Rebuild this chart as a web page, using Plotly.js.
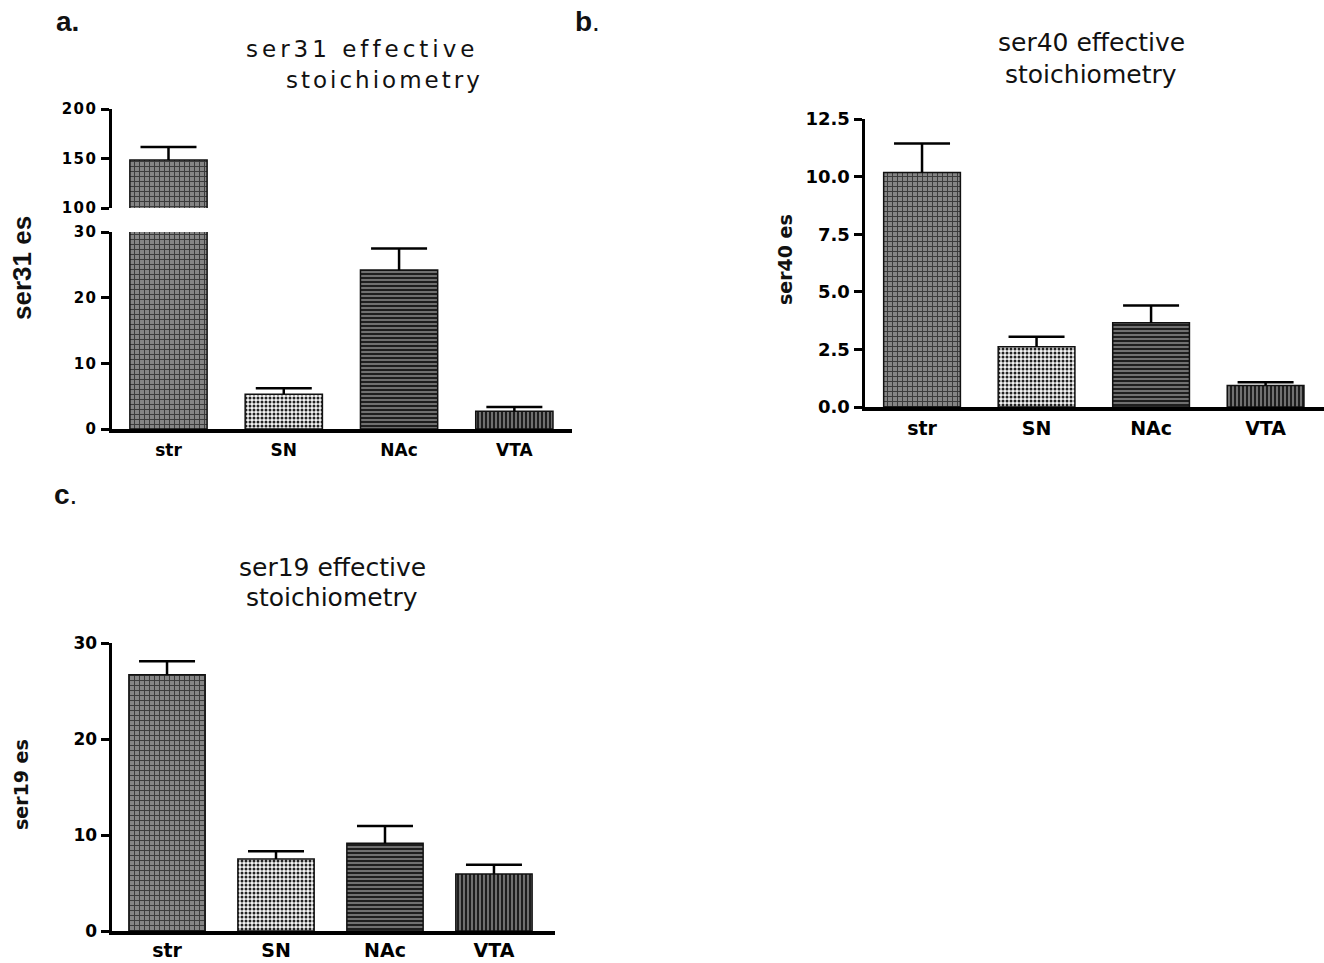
<!DOCTYPE html>
<html>
<head>
<meta charset="utf-8">
<script src="https://cdn.plot.ly/plotly-3.0.1.min.js"></script>
<style>
  html, body { margin: 0; padding: 0; background: #fff; }
  #chart { width: 1324px; height: 963px; }
  .ytick text, .y2tick text { letter-spacing: 1.5px; }
</style>
</head>
<body>
<div id="chart"></div>
<script>
// ---- data ----
const categories = ['str', 'SN', 'NAc', 'VTA'];

const ser31Mean = [148.5, 5.3, 24.2, 2.7];
const ser31Sem  = [13.0, 0.9, 3.3, 0.65];

const ser40Mean = [10.18, 2.62, 3.66, 0.93];
const ser40Sem  = [1.26, 0.43, 0.75, 0.14];

const ser19Mean = [26.7, 7.5, 9.15, 5.95];
const ser19Sem  = [1.4, 0.8, 1.8, 0.95];

const ticksA_low  = [0, 10, 20, 30];
const ticksA_high = [100, 150, 200];
const ticksB = [0, 2.5, 5, 7.5, 10, 12.5];
const ticksB_text = ['0.0', '2.5', '5.0', '7.5', '10.0', '12.5'];
const ticksC = [0, 10, 20, 30];

// ---- styles ----
const W = 1324, H = 963;
const px = v => v / W;
const py = v => (H - v) / H;

// one fill style per brain region
const fills = [
  { shape: '+', fg: '#3a3a3a', bg: '#858585', size: 5, solidity: 0.35 },
  { shape: '.', fg: '#222222', bg: '#f4f4f4', size: 4, solidity: 0.45 },
  { shape: '-', fg: '#1e1e1e', bg: '#707070', size: 4, solidity: 0.5 },
  { shape: '|', fg: '#1e1e1e', bg: '#707070', size: 4, solidity: 0.5 }
];

function panelTraces(mean, sem, xa, ya, width) {
  const out = [];
  categories.forEach((c, i) => {
    const f = fills[i];
    out.push({
      type: 'bar', x: [c], y: [mean[i]], xaxis: xa, yaxis: ya, width: width,
      hoverinfo: 'skip',
      marker: {
        color: f.bg, line: { color: '#111', width: 1.5 },
        pattern: { shape: f.shape, fgcolor: f.fg, bgcolor: f.bg, size: f.size,
                   solidity: f.solidity, fillmode: 'replace' }
      },
      error_y: { type: 'data', symmetric: false, array: [sem[i]], arrayminus: [0],
                 color: '#000', thickness: 2.5, width: 0 }
    });
  });
  // caps of the error bars, drawn as horizontal line markers at mean + sem
  out.push({
    type: 'scatter', mode: 'markers', x: categories, y: mean.map((m, i) => m + sem[i]),
    xaxis: xa, yaxis: ya, hoverinfo: 'skip', cliponaxis: true,
    marker: { symbol: 'line-ew-open', size: 40, color: '#000', line: { color: '#000', width: 2.5 } }
  });
  return out;
}

const data = [].concat(
  panelTraces(ser31Mean, ser31Sem, 'x', 'y', 0.67),
  panelTraces(ser31Mean, ser31Sem, 'x', 'y2', 0.67),
  panelTraces(ser40Mean, ser40Sem, 'x2', 'y3', 0.67),
  panelTraces(ser19Mean, ser19Sem, 'x3', 'y4', 0.70)
);

const DJ = 'DejaVu Sans, Liberation Sans, Arial, sans-serif';
const AR = 'Liberation Sans, Arial, sans-serif';

function yAx(domain, range, tickvals, size, anchor, ticktext) {
  const a = {
    domain: domain, range: range, anchor: anchor, tickvals: tickvals,
    showline: true, linewidth: 3.5, linecolor: '#000',
    ticks: 'outside', ticklen: 8, tickwidth: 3, tickcolor: '#000',
    showgrid: false, zeroline: false, fixedrange: true,
    tickfont: { family: DJ, size: size, color: '#000', weight: 'bold' }
  };
  if (ticktext) a.ticktext = ticktext;
  return a;
}
function xAx(domain, range, anchor, size, standoff) {
  return {
    domain: domain, range: range, anchor: anchor, type: 'category',
    categoryorder: 'array', categoryarray: categories,
    showline: true, linewidth: 3.5, linecolor: '#000', ticks: '',
    showgrid: false, zeroline: false, fixedrange: true, ticklabelstandoff: standoff,
    tickfont: { family: DJ, size: size, color: '#000', weight: 'bold' }
  };
}

function ann(text, x, y, size, family, opts) {
  return Object.assign({
    text: text, xref: 'paper', yref: 'paper', x: px(x), y: py(y),
    xanchor: 'center', yanchor: 'middle', showarrow: false,
    font: { family: family, size: size, color: '#111' }
  }, opts || {});
}

const layout = {
  width: W, height: H,
  margin: { l: 0, r: 0, t: 0, b: 0 },
  paper_bgcolor: '#fff', plot_bgcolor: 'rgba(0,0,0,0)',
  showlegend: false, barmode: 'overlay',
  xaxis:  xAx([px(112), px(572)], [-0.49, 3.5], 'y', 17, 3),
  yaxis:  yAx([py(429), py(232)], [0, 30], ticksA_low, 15, 'x'),
  yaxis2: yAx([py(208), py(109)], [100, 200], ticksA_high, 15, 'x'),
  xaxis2: xAx([px(865), 1], [-0.498, 3.51], 'y3', 19, 2),
  yaxis3: yAx([py(407), py(119)], [0, 12.5], ticksB, 18, 'x2', ticksB_text),
  xaxis3: xAx([px(112), px(555)], [-0.505, 3.56], 'y4', 19, 0),
  yaxis4: yAx([py(931), py(643)], [0, 30], ticksC, 17, 'x3'),
  annotations: [
    ann('<b>a.</b>', 67, 22, 28, AR),
    ann('<b>b</b>.', 587, 22, 28, AR),
    ann('<b>c</b>.', 65, 495, 28, AR),
    ann('<span style="letter-spacing:4px">ser31 effective</span>', 362, 49, 23, DJ),
    ann('<span style="letter-spacing:3px">stoichiometry</span>', 384, 80, 23, DJ),
    ann('ser40 effective', 1091, 43, 25, DJ),
    ann('stoichiometry', 1091, 74, 25, DJ),
    ann('ser19 effective', 332, 567, 25, DJ),
    ann('stoichiometry', 332, 598, 25, DJ),
    ann('<b>ser31 es</b>', 22, 268, 26, AR, { textangle: -90 }),
    ann('<b>ser40 es</b>', 785, 260, 19, DJ, { textangle: -90 }),
    ann('<b>ser19 es</b>', 21, 785, 19, DJ, { textangle: -90 })
  ]
};

Plotly.newPlot('chart', data, layout, { staticPlot: true, displayModeBar: false });
</script>
</body>
</html>
